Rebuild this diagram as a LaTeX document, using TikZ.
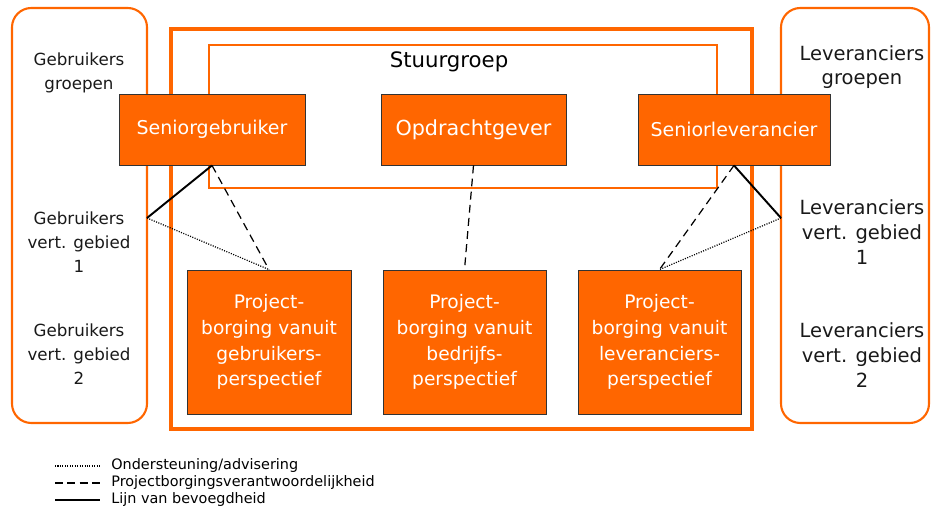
\documentclass[tikz,border=0pt]{standalone}
\usepackage{fontspec}
\setmainfont{DejaVu Sans}
\usepackage{tikz}
\usetikzlibrary{calc}
\definecolor{box_orange}{HTML}{FF6600}

\begin{document}
\begin{tikzpicture}[x=0.02cm, y=-0.02cm,
	role/.style={draw=black!80, fill=box_orange, text=white, line width=0.5pt, inner sep=0pt, align=center},
	sidetext/.style={align=center, text=black!90},
	authority/.style={line width=1.1pt},
	assurance/.style={line width=0.7pt, dash pattern=on 4.5pt off 3pt},
	support/.style={line width=0.7pt, dash pattern=on 0.6pt off 0.8pt}]
	\useasboundingbox (0,0) rectangle (931,517);
	% groups on both sides
	\draw[box_orange, line width=1.2pt, rounded corners=11pt] (12,8) rectangle (147,423);
	\draw[box_orange, line width=1.2pt, rounded corners=11pt] (781,8) rectangle (929,423);
	\node[sidetext, font=\fontsize{9.5}{13.5}\selectfont] (gg) at (79,73) {Gebruikers\\groepen};
	\node[sidetext, font=\fontsize{9.5}{13.5}\selectfont] (gv1t) at (79,242) {Gebruikers\\vert. gebied\\1};
	\node[sidetext, font=\fontsize{9.5}{13.5}\selectfont] (gv2t) at (79,354) {Gebruikers\\vert. gebied\\2};
	\node[sidetext, font=\fontsize{11.1}{14}\selectfont] (lg) at (862,67) {Leveranciers\\groepen};
	\node[sidetext, font=\fontsize{11.1}{14}\selectfont] (lv1t) at (862,232) {Leveranciers\\vert. gebied\\1};
	\node[sidetext, font=\fontsize{11.1}{14}\selectfont] (lv2t) at (862,355) {Leveranciers\\vert. gebied\\2};
	% project board
	\draw[box_orange, line width=2pt] (171,29) rectangle (752,429);
	\draw[box_orange, line width=0.6pt] (209,45) rectangle (717,188);
	\node[font=\fontsize{12.1}{14}\selectfont] (sturing) at (449,62) {Stuurgroep};
	\node[role, minimum width=3.72cm, minimum height=1.42cm, font=\fontsize{10.8}{12}\selectfont] (sg) at (212,129.5) {Seniorgebruiker};
	\node[role, minimum width=3.70cm, minimum height=1.42cm, font=\fontsize{11.8}{12}\selectfont] (og) at (473.5,129.5) {Opdrachtgever};
	\node[role, minimum width=3.84cm, minimum height=1.42cm, font=\fontsize{10.8}{12}\selectfont] (sl) at (734,129.5) {Seniorleverancier};
	\node[role, minimum width=3.28cm, minimum height=2.88cm, font=\fontsize{10.6}{14.7}\selectfont] (pb1) at (269,342) {Project-\\borging vanuit\\gebruikers-\\perspectief};
	\node[role, minimum width=3.26cm, minimum height=2.88cm, font=\fontsize{10.6}{14.7}\selectfont] (pb2) at (464.5,342) {Project-\\borging vanuit\\bedrijfs-\\perspectief};
	\node[role, minimum width=3.26cm, minimum height=2.88cm, font=\fontsize{10.6}{14.7}\selectfont] (pb3) at (659.5,342) {Project-\\borging vanuit\\leveranciers-\\perspectief};
	% lines
	\coordinate (gv1) at (147,218);
	\coordinate (lv1) at (781,218);
	\draw[authority] (sg.south) -- (gv1);
	\draw[support] (gv1) -- (pb1.north);
	\draw[assurance] (sg.south) -- (pb1.north);
	\draw[assurance] (og.south) -- (pb2.north);
	\draw[assurance] (sl.south) -- (pb3.north);
	\draw[authority] (sl.south) -- (lv1);
	\draw[support] (lv1) -- (pb3.north);
	% legend
	\coordinate (k1) at (55,466);
	\coordinate (k2) at (55,483);
	\coordinate (k3) at (55,500);
	\draw[support] (k1) -- ++(45,0) coordinate (k1e);
	\draw[line width=0.7pt, dash pattern=on 4.5pt off 2.5pt] (k2) -- ++(45,0) coordinate (k2e);
	\draw[authority] (k3) -- ++(45,0) coordinate (k3e);
	\node[anchor=west, inner sep=0pt, font=\fontsize{8.2}{9}\selectfont] (kt1) at ($(k1e)+(11,0)$) {Ondersteuning/advisering};
	\node[anchor=west, inner sep=0pt, font=\fontsize{8.2}{9}\selectfont] (kt2) at ($(k2e)+(11,0)$) {Projectborgingsverantwoordelijkheid};
	\node[anchor=west, inner sep=0pt, font=\fontsize{8.2}{9}\selectfont] (kt3) at ($(k3e)+(11,0)$) {Lijn van bevoegdheid};
\end{tikzpicture}
\end{document}
